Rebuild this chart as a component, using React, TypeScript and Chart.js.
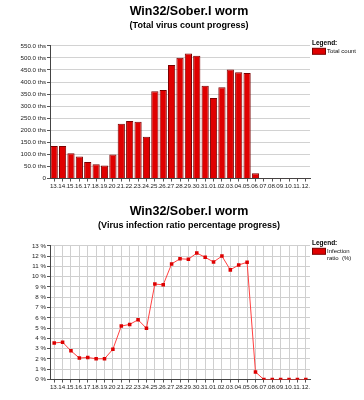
import React, { useEffect, useRef } from 'react';
import { Chart, registerables, layouts } from 'chart.js';

Chart.register(...registerables);

const days = ['13.', '14.', '15.', '16.', '17.', '18.', '19.', '20.', '21.', '22.', '23.', '24.', '25.', '26.', '27.', '28.', '29.', '30.', '31.', '01.', '02.', '03.', '04.', '05.', '06.', '07.', '08.', '09.', '10.', '11.', '12.'];
const totalCountThs = [135, 135, 105, 91, 69, 59, 54, 100, 227, 238, 235, 173, 362, 367, 470, 500, 518, 509, 384, 334, 378, 452, 440, 437, 22, 1.5, 1.5, 1.5, 1.5, 1.5, 1.5];
const infectionRatio = [3.56, 3.63, 2.79, 2.09, 2.15, 2.02, 2.02, 2.95, 5.2, 5.36, 5.81, 4.98, 9.28, 9.21, 11.24, 11.74, 11.69, 12.3, 11.88, 11.43, 12.0, 10.66, 11.14, 11.4, 0.74, 0, 0, 0, 0, 0, 0];

const FONT = 'Liberation Sans, Arial, sans-serif';

function sideLegend(lines: string[], color: string) {
  return {
    id: 'sideLegend',
    start(chart: any) {
      const box: any = {
        position: 'right',
        weight: 0,
        fullSize: false,
        options: {},
        left: 0, top: 0, right: 0, bottom: 0, width: 0, height: 0,
        isHorizontal() { return false; },
        update(maxWidth: number, maxHeight: number) { this.width = 54; this.height = maxHeight; this.maxWidth = maxWidth; },
        draw() {
          const ctx = chart.ctx;
          const x = this.left + 2;
          const y = chart.chartArea.top;
          ctx.save();
          ctx.fillStyle = '#000';
          ctx.textBaseline = 'middle';
          ctx.textAlign = 'left';
          ctx.font = `bold 6.5px ${FONT}`;
          ctx.fillText('Legend:', x, y - 3);
          ctx.fillStyle = color;
          ctx.fillRect(x, y + 2.5, 13, 6);
          ctx.strokeStyle = '#7a0000';
          ctx.lineWidth = 1;
          ctx.strokeRect(x + 0.5, y + 2.5, 13, 6);
          ctx.fillStyle = '#111';
          ctx.font = `6px ${FONT}`;
          lines.forEach((l, i) => ctx.fillText(l, x + 15, y + 6 + i * 7));
          ctx.restore();
        },
      };
      layouts.addBox(chart, box);
    },
  };
}

function commonOptions(title: string, subtitle: string, bottomPad: number): any {
  return {
    responsive: false,
    animation: false,
    layout: { padding: { left: 14, right: 0, top: 0, bottom: bottomPad } },
    plugins: {
      legend: { display: false },
      tooltip: { enabled: false },
      title: {
        display: true, text: title, color: '#000',
        font: { family: FONT, size: 12.5, weight: 'bold', lineHeight: 1.2 },
        padding: { top: 4, bottom: 0 },
      },
      subtitle: {
        display: true, text: subtitle, color: '#000',
        font: { family: FONT, size: 9, weight: 'bold', lineHeight: 1.2 },
        padding: { top: 1, bottom: 15 },
      },
    },
  };
}

function BarChart() {
  const ref = useRef<HTMLCanvasElement>(null);
  useEffect(() => {
    const opts = commonOptions('Win32/Sober.I worm', '(Total virus count progress)', 9);
    opts.scales = {
      x: {
        offset: true,
        grid: { display: true, drawOnChartArea: false, offset: false, tickLength: 3, tickColor: '#555' },
        border: { color: '#444' },
        ticks: { autoSkip: false, maxRotation: 0, minRotation: 0, padding: 1, color: '#222', font: { family: FONT, size: 6.2 } },
      },
      y: {
        min: 0, max: 550,
        afterFit: (s: any) => { s.width = 36; },
        grid: { color: '#d2d2d2', tickLength: 3, tickColor: '#555' },
        border: { color: '#444' },
        ticks: {
          stepSize: 50, autoSkip: false, padding: 1, color: '#222', font: { family: FONT, size: 6.2 },
          callback: (v: number) => (v === 0 ? '0' : `${v.toFixed(1)} ths`),
        },
      },
    };
    const chart = new Chart(ref.current!, {
      type: 'bar',
      data: {
        labels: days,
        datasets: [{
          label: 'Total count', data: totalCountThs,
          backgroundColor: '#e00000', borderColor: '#7a0000', borderWidth: 1,
          barPercentage: 0.86, categoryPercentage: 1,
        }],
      },
      options: opts,
      plugins: [sideLegend(['Total count'], '#e00000')],
    });
    return () => chart.destroy();
  }, []);
  return <canvas ref={ref} width={364} height={200} style={{ display: 'block' }} />;
}

function LineChart() {
  const ref = useRef<HTMLCanvasElement>(null);
  useEffect(() => {
    const opts = commonOptions('Win32/Sober.I worm', '(Virus infection ratio percentage progress)', 8);
    opts.scales = {
      x: {
        offset: true,
        grid: { color: '#cfcfcf', offset: false, tickLength: 3, tickColor: '#555' },
        border: { color: '#444' },
        ticks: { autoSkip: false, maxRotation: 0, minRotation: 0, padding: 1, color: '#222', font: { family: FONT, size: 6.2 } },
      },
      y: {
        min: 0, max: 13,
        afterFit: (s: any) => { s.width = 36; },
        grid: { color: '#cfcfcf', tickLength: 3, tickColor: '#555' },
        border: { color: '#444' },
        ticks: {
          stepSize: 1, autoSkip: false, padding: 1, color: '#222', font: { family: FONT, size: 6.2 },
          callback: (v: number) => `${v} %`,
        },
      },
    };
    const chart = new Chart(ref.current!, {
      type: 'line',
      data: {
        labels: days,
        datasets: [{
          label: 'Infection ratio (%)', data: infectionRatio,
          borderColor: '#ff4040', borderWidth: 1,
          pointStyle: 'rect', pointRadius: 2.5,
          pointBackgroundColor: '#dd0000', pointBorderColor: '#dd0000', pointBorderWidth: 0,
          tension: 0,
        }],
      },
      options: opts,
      plugins: [sideLegend(['Infection', 'ratio  (%)'], '#e00000')],
    });
    return () => chart.destroy();
  }, []);
  return <canvas ref={ref} width={364} height={200} style={{ display: 'block' }} />;
}

export default function App() {
  return (
    <div style={{ width: 364, height: 400, background: '#fff' }}>
      <style>{'body{margin:0;background:#fff}'}</style>
      <BarChart />
      <LineChart />
    </div>
  );
}
